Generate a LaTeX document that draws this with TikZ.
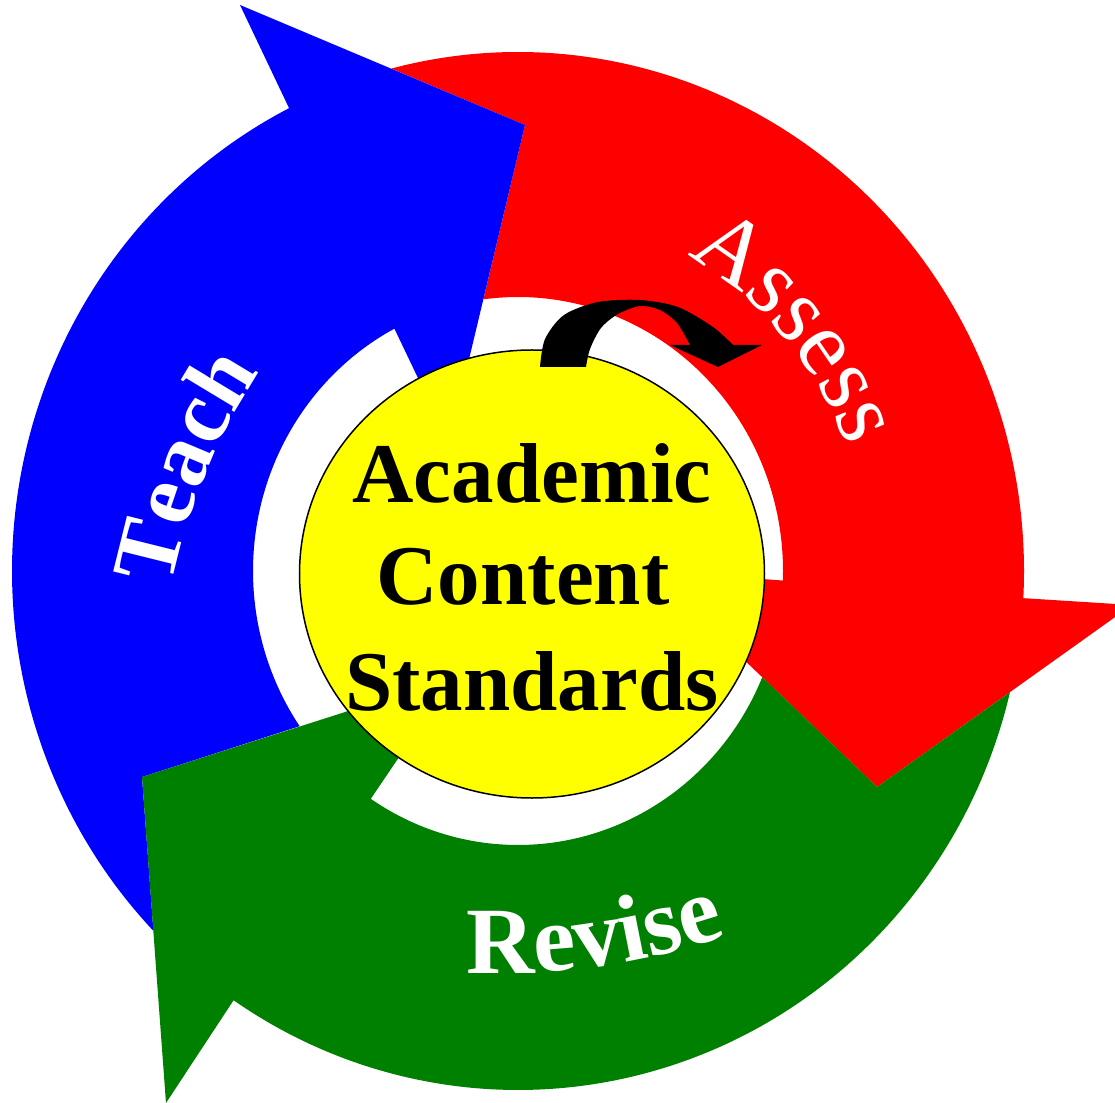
\documentclass[tikz,border=0pt]{standalone}
\usepackage{fontspec}
\newfontfamily\tnr{Liberation Serif}
\usetikzlibrary{decorations.text}
\definecolor{ablue}{RGB}{0,0,255}
\definecolor{ared}{RGB}{255,0,0}
\definecolor{agreen}{RGB}{0,128,0}
\definecolor{ayellow}{RGB}{255,255,0}
\tikzset{
  ringout/.style={x radius=506pt,y radius=519pt},
  ringin/.style={x radius=265pt,y radius=274pt},
  stdtext/.style={font=\tnr\bfseries\fontsize{85}{100}\selectfont, text=black, inner sep=0pt, anchor=base},
}
\def\boldlbl{\tnr\bfseries\fontsize{90}{90}\selectfont}
\def\reglbl{\tnr\fontsize{94}{94}\selectfont}
\def\revlbl{\tnr\bfseries\fontsize{95}{95}\selectfont}
\begin{document}
\begin{tikzpicture}[x=1pt,y=1pt]
\useasboundingbox (-518,-531) rectangle (597,571);
\clip (-518,-531) rectangle (597,571);
\fill[white] (-518,-531) rectangle (597,571);
% red arrow (Assess)
\fill[ared] (104.5:506pt and 519pt) arc[start angle=104.5,end angle=-3,ringout]
  -- (614,-34) -- (359,-216) -- (132.7,0.5) -- (-2:265pt and 274pt)
  arc[start angle=-2,end angle=97.5,ringin] -- (7,446) -- cycle;
% blue arrow (Teach)
\fill[ablue] (223.9:506pt and 519pt) arc[start angle=223.9,end angle=116.9,ringout]
  -- (-278,566) -- (7,446) -- (-69,128) -- (117.8:265pt and 274pt)
  arc[start angle=117.8,end angle=214.5,ringin] -- (-376,-206) -- cycle;
% green arrow (Revise)
\fill[agreen] (-13.5:506pt and 519pt) arc[start angle=-13.5,end angle=-124.2,ringout]
  -- (-352,-532) -- (-376,-206) -- (-65,-106.5) -- (-123.75:265pt and 274pt)
  arc[start angle=-123.75,end angle=-22.8,ringin] -- (359,-216) -- cycle;
% labels on the arrows
\path[decorate, decoration={text along path, text={|\boldlbl|Teach}, text align=center, text color=white}]
  ([shift={(242,-132)}]200:600pt) arc[start angle=200,end angle=115.4,radius=600pt];
\path[decorate, decoration={text along path, text={|\reglbl|Assess}, text align=center, text color=white}]
  (91:350pt and 360pt) arc[start angle=91,end angle=-9,x radius=350pt,y radius=360pt];
\path[decorate, decoration={text along path, text={|\revlbl|Revise}, text align=center, text color=white}]
  ([shift={(-17.3,297.6)}]248:700pt) arc[start angle=248,end angle=308,radius=700pt];
% central disc
\filldraw[fill=ayellow, draw=black, line width=1.5pt] (14,-3) ellipse[x radius=232.5pt, y radius=224pt];
\node[stdtext] (l1) at (14,68) {Academic};
\node[stdtext] (l2) at (5,-34) {Content};
\node[stdtext] (l3) at (14,-139) {Standards};
% small black curved arrow
\fill[black] (22,204) -- plot[smooth] coordinates {(22,204) (27,232) (46,256) (80,269) (122,271) (160,264) (195,244) (215,226)}
  -- (244,226) -- (200,204) -- (152,226)
  -- plot[smooth] coordinates {(172,226) (159,248) (142,261) (122,265) (100,257) (83,243) (72,222) (68,204)} -- cycle;
\end{tikzpicture}
\end{document}
